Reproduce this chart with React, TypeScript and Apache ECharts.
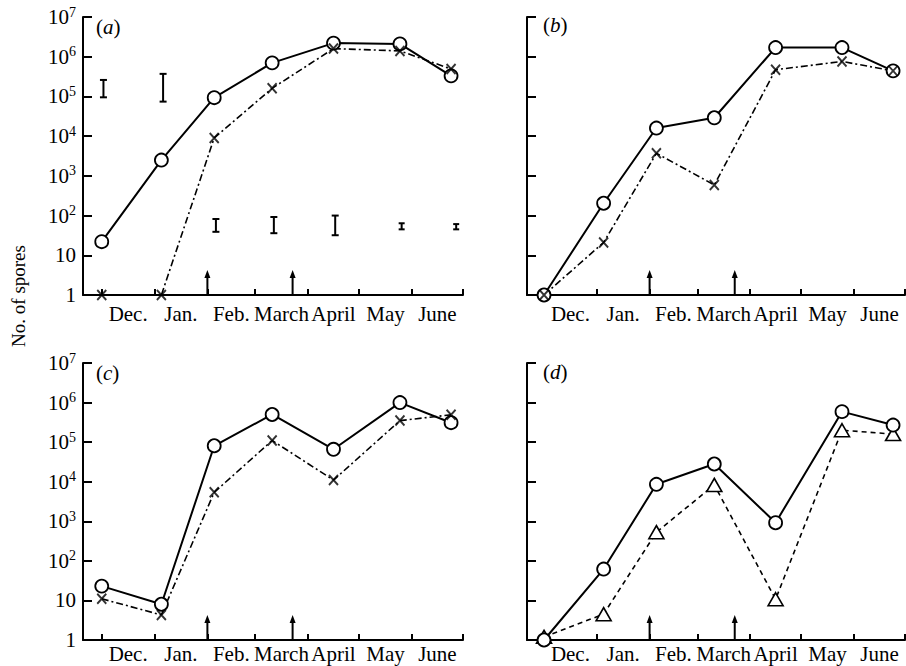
import React, { useEffect, useRef } from "react";
import * as echarts from "echarts";

const FONT = '"Liberation Serif", "Times New Roman", serif';

// Month names and month-boundary days (day 0 = 1 Dec)
const months = ["Dec.", "Jan.", "Feb.", "March", "April", "May", "June"];
const monthStartDays = [0, 31, 62, 90, 121, 151, 182, 212];
const monthLabelDays = [15.5, 46.5, 76, 105.5, 136, 166.5, 197];

// Sampling days
const sampleDays = [0, 35, 66, 100, 136, 175, 205];

// Panel (a)
const aCircles = [22, 2500, 93000, 700000, 2200000, 2100000, 330000];
const aCrosses = [1, 1, 9000, 160000, 1600000, 1400000, 490000];
const aErrDays = [1, 36, 67, 101, 137, 176, 208];
const aErrLow = [95000, 74000, 39, 36, 32, 45, 45];
const aErrHigh = [260000, 370000, 82, 92, 100, 64, 61];

// Panel (b)
const bCircles = [1, 204, 16000, 29000, 1700000, 1700000, 440000];
const bCrosses = [1, 21, 3700, 590, 470000, 760000, 440000];

// Panel (c)
const cCircles = [23, 8, 81000, 500000, 66000, 1000000, 310000];
const cCrosses = [11, 4.3, 5400, 110000, 11000, 350000, 490000];

// Panel (d)
const dCircles = [1, 62, 8600, 28000, 920, 590000, 270000];
const dTriangles = [1.2, 4.5, 530, 8300, 10.7, 200000, 160000];

// Arrows (days)
const arrowDays = [62, 112];

const panelLabels = ["a", "b", "c", "d"];

const zip = (xs: number[], ys: number[]) => xs.map((x, i) => [x, ys[i]]);

export default function App() {
  const ref = useRef<HTMLDivElement>(null);

  useEffect(() => {
    document.body.style.margin = "0";
    if (!ref.current) return;
    const chart = echarts.init(ref.current, undefined, { renderer: "svg" });

    const grids = [
      { left: 83, top: 17, width: 380, height: 278 },
      { left: 527, top: 17, width: 378, height: 278 },
      { left: 83, top: 363, width: 380, height: 277 },
      { left: 527, top: 363, width: 378, height: 277 },
    ];
    const xMins = [-11, -10, -11, -10];

    const xAxes = grids.map((_, i) => ({
      gridIndex: i,
      type: "value",
      min: xMins[i],
      max: 212,
      axisLine: { show: true, onZero: false, lineStyle: { color: "#000", width: 2 } },
      axisTick: {
        show: true,
        inside: true,
        length: 6,
        customValues: monthStartDays,
        lineStyle: { color: "#000", width: 2 },
      },
      axisLabel: {
        show: true,
        customValues: monthLabelDays,
        formatter: (v: number) => {
          const idx = monthLabelDays.findIndex((d) => Math.abs(d - v) < 0.01);
          return idx >= 0 ? months[idx] : "";
        },
        color: "#000",
        fontFamily: FONT,
        fontSize: 21,
        margin: i < 2 ? 8 : 3,
      },
      splitLine: { show: false },
    }));

    const yAxes = grids.map((_, i) => ({
      gridIndex: i,
      type: "log",
      logBase: 10,
      min: 1,
      max: 10000000,
      splitNumber: 7,
      axisLine: { show: true, onZero: false, lineStyle: { color: "#000", width: 2 } },
      axisTick: { show: true, inside: true, length: 9, lineStyle: { color: "#000", width: 2 } },
      axisLabel: {
        show: i % 2 === 0,
        margin: 7,
        color: "#000",
        fontFamily: FONT,
        fontSize: 21,
        formatter: (v: number) => {
          const e = Math.round(Math.log10(v));
          if (e === 0) return "1";
          if (e === 1) return "10";
          return `{b|10}{s|${e}}`;
        },
        rich: {
          b: { fontFamily: FONT, fontSize: 21, lineHeight: 24, color: "#000" },
          s: { fontFamily: FONT, fontSize: 14, lineHeight: 14, verticalAlign: "top", color: "#000" },
        },
      },
      splitLine: { show: false },
      minorTick: { show: false },
    }));

    const circleSeries = (i: number, vals: number[]) => ({
      type: "line",
      xAxisIndex: i,
      yAxisIndex: i,
      data: zip(sampleDays, vals),
      symbol: "circle",
      symbolSize: 13,
      showSymbol: true,
      itemStyle: { color: "#fff", borderColor: "#000", borderWidth: 1.8 },
      lineStyle: { color: "#000", width: 2 },
      z: 3,
      silent: true,
    });

    const crossLine = (i: number, vals: number[]) => ({
      type: "line",
      xAxisIndex: i,
      yAxisIndex: i,
      data: zip(sampleDays, vals),
      symbol: "none",
      lineStyle: { color: "#000", width: 1.6, type: [7, 3, 2, 3] },
      z: 2,
      silent: true,
    });

    const crossMarks = (i: number, vals: number[]) => ({
      type: "scatter",
      xAxisIndex: i,
      yAxisIndex: i,
      data: zip(sampleDays, vals),
      symbol: "path://M0,0L10,11M10,0L0,11",
      symbolSize: [9, 10],
      itemStyle: { color: "#000", borderColor: "#000", borderWidth: 2 },
      z: 4,
      silent: true,
    });

    const arrowSeries = (i: number) => ({
      type: "custom",
      xAxisIndex: i,
      yAxisIndex: i,
      data: arrowDays.map((d) => [d, 1]),
      encode: { x: 0, y: 1 },
      z: 5,
      silent: true,
      renderItem: (_p: any, api: any) => {
        const p = api.coord([api.value(0), api.value(1)]);
        const top = p[1] - 25;
        return {
          type: "group",
          children: [
            {
              type: "line",
              shape: { x1: p[0], y1: p[1], x2: p[0], y2: top + 5 },
              style: { stroke: "#000", lineWidth: 2 },
            },
            {
              type: "polygon",
              shape: { points: [[p[0], top], [p[0] - 3, top + 8], [p[0] + 3, top + 8]] },
              style: { fill: "#000" },
            },
          ],
        };
      },
    });

    const errorSeries = {
      type: "custom",
      xAxisIndex: 0,
      yAxisIndex: 0,
      data: aErrDays.map((d, k) => [d, aErrLow[k], aErrHigh[k]]),
      encode: { x: 0, y: [1, 2] },
      z: 5,
      silent: true,
      renderItem: (_p: any, api: any) => {
        const lo = api.coord([api.value(0), api.value(1)]);
        const hi = api.coord([api.value(0), api.value(2)]);
        const h = Math.abs(lo[1] - hi[1]);
        const c = h > 12 ? 3.5 : 3;
        const st = { stroke: "#000", lineWidth: 2 };
        return {
          type: "group",
          children: [
            { type: "line", shape: { x1: lo[0], y1: lo[1], x2: hi[0], y2: hi[1] }, style: st },
            { type: "line", shape: { x1: lo[0] - c, y1: lo[1], x2: lo[0] + c, y2: lo[1] }, style: st },
            { type: "line", shape: { x1: hi[0] - c, y1: hi[1], x2: hi[0] + c, y2: hi[1] }, style: st },
          ],
        };
      },
    };

    const series: any[] = [
      crossLine(0, aCrosses),
      circleSeries(0, aCircles),
      crossMarks(0, aCrosses),
      errorSeries,
      crossLine(1, bCrosses),
      circleSeries(1, bCircles),
      crossMarks(1, bCrosses),
      crossLine(2, cCrosses),
      circleSeries(2, cCircles),
      crossMarks(2, cCrosses),
      {
        type: "line",
        xAxisIndex: 3,
        yAxisIndex: 3,
        data: zip(sampleDays, dTriangles),
        symbol: "triangle",
        symbolSize: [15, 13],
        itemStyle: { color: "#fff", borderColor: "#000", borderWidth: 1.6 },
        lineStyle: { color: "#000", width: 1.6, type: [5, 4] },
        z: 2,
        silent: true,
      },
      circleSeries(3, dCircles),
      arrowSeries(0),
      arrowSeries(1),
      arrowSeries(2),
      arrowSeries(3),
    ];

    const labelPos = [
      [96, 27],
      [543, 25],
      [96, 373],
      [543, 372],
    ];

    const graphic: any[] = panelLabels.map((l, i) => ({
      type: "text",
      x: labelPos[i][0],
      y: labelPos[i][1],
      silent: true,
      style: {
        text: `({i|${l}})`,
        fontFamily: FONT,
        fontSize: 21,
        fill: "#000",
        align: "left",
        verticalAlign: "middle",
        rich: {
          i: { fontFamily: FONT, fontSize: 21, fontStyle: "italic", fill: "#000" },
        },
      },
    }));
    graphic.push({
      type: "text",
      x: 18,
      y: 296,
      rotation: Math.PI / 2,
      silent: true,
      style: {
        text: "No. of spores",
        fontFamily: FONT,
        fontSize: 19,
        fill: "#000",
        align: "center",
        verticalAlign: "middle",
      },
    });

    chart.setOption({
      animation: false,
      backgroundColor: "#fff",
      grid: grids,
      xAxis: xAxes,
      yAxis: yAxes,
      series,
      graphic,
    });

    return () => chart.dispose();
  }, []);

  return <div ref={ref} style={{ width: 906, height: 666 }} />;
}
